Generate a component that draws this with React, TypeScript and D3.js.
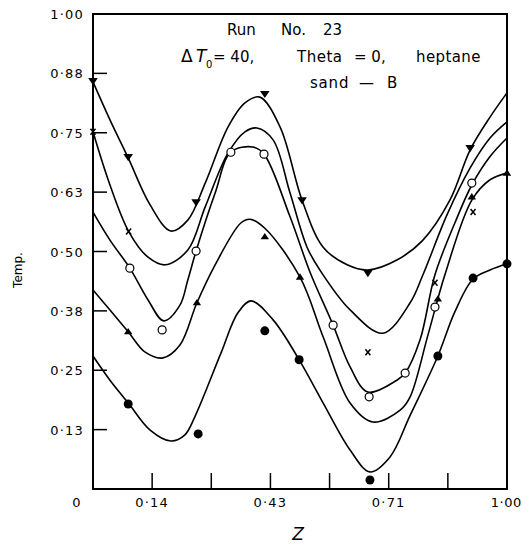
import React from "react";
import * as d3 from "d3";

// Fitted curves [Z, Temp]
const curveDown: [number, number][] = [
  [0, 0.857], [0.041, 0.777], [0.085, 0.697], [0.138, 0.598], [0.188, 0.543], [0.229, 0.566],
  [0.271, 0.644], [0.326, 0.762], [0.367, 0.813], [0.403, 0.825], [0.452, 0.762], [0.505, 0.608],
  [0.556, 0.509], [0.614, 0.472], [0.664, 0.461], [0.734, 0.482], [0.797, 0.524], [0.862, 0.608],
  [0.911, 0.714], [0.959, 0.783], [1.0, 0.834],
];
const curveCross: [number, number][] = [
  [0, 0.752], [0.041, 0.64], [0.087, 0.541], [0.133, 0.488], [0.174, 0.472], [0.229, 0.503],
  [0.271, 0.594], [0.326, 0.707], [0.367, 0.752], [0.396, 0.76], [0.435, 0.735], [0.476, 0.623],
  [0.517, 0.509], [0.548, 0.461], [0.621, 0.377], [0.7, 0.328], [0.766, 0.392], [0.797, 0.451],
  [0.855, 0.577], [0.911, 0.676], [0.959, 0.739], [1.0, 0.773],
];
const curveOpen: [number, number][] = [
  [0, 0.583], [0.041, 0.524], [0.089, 0.465], [0.133, 0.398], [0.171, 0.354], [0.21, 0.387],
  [0.229, 0.44], [0.249, 0.501], [0.295, 0.623], [0.333, 0.709], [0.386, 0.72], [0.413, 0.705],
  [0.476, 0.573], [0.524, 0.457], [0.58, 0.345], [0.621, 0.257], [0.664, 0.204], [0.734, 0.229],
  [0.754, 0.244], [0.79, 0.314], [0.826, 0.451], [0.874, 0.56], [0.915, 0.64], [0.959, 0.7], [1.0, 0.739],
];
const curveUp: [number, number][] = [
  [0, 0.419], [0.041, 0.377], [0.085, 0.331], [0.126, 0.288], [0.169, 0.276], [0.21, 0.303],
  [0.251, 0.392], [0.295, 0.472], [0.357, 0.56], [0.379, 0.568], [0.415, 0.549], [0.5, 0.446],
  [0.556, 0.32], [0.621, 0.181], [0.676, 0.141], [0.742, 0.166], [0.766, 0.194], [0.809, 0.324],
  [0.85, 0.451], [0.915, 0.608], [0.959, 0.651], [1.0, 0.665],
];
const curveFilled: [number, number][] = [
  [0, 0.28], [0.041, 0.229], [0.087, 0.179], [0.138, 0.124], [0.188, 0.101], [0.222, 0.114],
  [0.246, 0.152], [0.309, 0.286], [0.35, 0.371], [0.382, 0.396], [0.435, 0.356], [0.498, 0.272],
  [0.556, 0.181], [0.621, 0.082], [0.669, 0.036], [0.717, 0.067], [0.766, 0.155], [0.833, 0.28],
  [0.874, 0.373], [0.918, 0.442], [0.959, 0.461], [1.0, 0.474],
];

// Measured points [Z, Temp]
const ptsDown: [number, number][] = [
  [0, 0.859], [0.085, 0.699], [0.249, 0.604], [0.415, 0.832], [0.505, 0.608], [0.664, 0.455], [0.911, 0.718],
];
const ptsCross: [number, number][] = [
  [0, 0.752], [0.086, 0.542], [0.664, 0.288], [0.826, 0.434], [0.918, 0.583],
];
const ptsOpen: [number, number][] = [
  [0.089, 0.465], [0.167, 0.335], [0.249, 0.501], [0.333, 0.709], [0.413, 0.705], [0.58, 0.345],
  [0.667, 0.194], [0.754, 0.244], [0.826, 0.383], [0.915, 0.644],
];
const ptsUp: [number, number][] = [
  [0.085, 0.331], [0.251, 0.392], [0.415, 0.531], [0.5, 0.446], [0.833, 0.4], [0.915, 0.615], [1.0, 0.665],
];
const ptsFilled: [number, number][] = [
  [0.085, 0.179], [0.254, 0.116], [0.415, 0.333], [0.498, 0.272], [0.669, 0.019], [0.833, 0.28],
  [0.918, 0.444], [1.0, 0.474],
];

const yTickValues = [0.125, 0.25, 0.375, 0.5, 0.625, 0.75, 0.875, 1.0];
const yTickLabels = ["0·13", "0·25", "0·38", "0·50", "0·63", "0·75", "0·88", "1·00"];
const xTickValues = [1 / 7, 2 / 7, 3 / 7, 4 / 7, 5 / 7, 6 / 7];
const xLabelValues = [0, 1 / 7, 3 / 7, 5 / 7, 1];
const xLabels = ["0", "0·14", "0·43", "0·71", "1·00"];

const FONT = "'DejaVu Sans', sans-serif";

export default function App() {
  const x = d3.scaleLinear().domain([0, 1]).range([93, 507]);
  const y = d3.scaleLinear().domain([0, 1]).range([489, 14]);
  const line = d3
    .line<[number, number]>()
    .x((d) => x(d[0]))
    .y((d) => y(d[1]))
    .curve(d3.curveCatmullRom.alpha(0.5));

  const curves = [curveDown, curveCross, curveOpen, curveUp, curveFilled];
  const triDown = (cx: number, cy: number, s: number) =>
    `M${cx - s},${cy - s * 0.6}L${cx + s},${cy - s * 0.6}L${cx},${cy + s * 0.9}Z`;
  const triUp = (cx: number, cy: number, s: number) =>
    `M${cx - s},${cy + s * 0.6}L${cx + s},${cy + s * 0.6}L${cx},${cy - s * 0.9}Z`;

  return (
    <svg
      width={523}
      height={544}
      style={{ position: "absolute", left: 0, top: 0, background: "#fff" }}
      fontFamily={FONT}
    >
      <rect x={0} y={0} width={523} height={544} fill="#fff" />
      {/* frame */}
      <rect x={x(0)} y={y(1)} width={x(1) - x(0)} height={y(0) - y(1)} fill="none" stroke="#000" strokeWidth={2} />
      {/* y ticks */}
      {yTickValues.map((v, i) => (
        <g key={"yt" + i}>
          {v < 1 && <line x1={x(0)} x2={x(0) + 14} y1={y(v)} y2={y(v)} stroke="#000" strokeWidth={1.5} />}
          <text x={84} y={y(v) + 5} textAnchor="end" fontSize={13} letterSpacing={1.2} fill="#000">
            {yTickLabels[i]}
          </text>
        </g>
      ))}
      {/* x ticks */}
      {xTickValues.map((v, i) => (
        <line key={"xt" + i} x1={x(v)} x2={x(v)} y1={y(0)} y2={y(0) - 16} stroke="#000" strokeWidth={1.5} />
      ))}
      {xLabelValues.map((v, i) =>
        i === 4 ? (
          <text key={"xl" + i} x={522} y={507} textAnchor="end" fontSize={13} letterSpacing={0.6} fill="#000">
            {xLabels[i]}
          </text>
        ) : (
          <text
            key={"xl" + i}
            x={x(v) + (i === 0 ? -16 : 0)}
            y={507}
            textAnchor="middle"
            fontSize={13}
            letterSpacing={1.2}
            fill="#000"
          >
            {xLabels[i]}
          </text>
        )
      )}
      {/* axis titles */}
      <text x={298} y={540} textAnchor="middle" fontSize={17} fontStyle="italic" fill="#000">
        Z
      </text>
      <text transform="translate(22,270) rotate(-90)" textAnchor="middle" fontSize={12} fill="#000">
        Temp.
      </text>
      {/* annotations */}
      <text y={35} fontSize={15} fill="#000">
        <tspan x={227}>Run</tspan>
        <tspan x={281}>No.</tspan>
        <tspan x={323}>23</tspan>
      </text>
      <text y={62} fontSize={17} fill="#000">
        <tspan x={181}>Δ</tspan>
        <tspan x={196} fontStyle="italic">T</tspan>
      </text>
      <text x={206} y={68} fontSize={10} fill="#000">0</text>
      <text y={62} fontSize={15} fill="#000">
        <tspan x={213}>= 40,</tspan>
        <tspan x={297} letterSpacing={0.5}>Theta</tspan>
        <tspan x={354}>= 0,</tspan>
        <tspan x={416} letterSpacing={0.4}>heptane</tspan>
      </text>
      <text y={88} fontSize={15} fill="#000">
        <tspan x={310} letterSpacing={0.8}>sand</tspan>
        <tspan x={359}>—</tspan>
        <tspan x={387}>B</tspan>
      </text>
      {/* curves */}
      {curves.map((c, i) => (
        <path key={"c" + i} d={line(c) || ""} fill="none" stroke="#000" strokeWidth={1.6} />
      ))}
      {/* markers */}
      {ptsDown.map((p, i) => (
        <path key={"pd" + i} d={triDown(x(p[0]), y(p[1]), 4.8)} fill="#000" />
      ))}
      {ptsCross.map((p, i) => (
        <g key={"px" + i} stroke="#000" strokeWidth={1.5}>
          <line x1={x(p[0]) - 2.5} x2={x(p[0]) + 2.5} y1={y(p[1]) - 3} y2={y(p[1]) + 3} />
          <line x1={x(p[0]) - 2.5} x2={x(p[0]) + 2.5} y1={y(p[1]) + 3} y2={y(p[1]) - 3} />
        </g>
      ))}
      {ptsOpen.map((p, i) => (
        <circle key={"po" + i} cx={x(p[0])} cy={y(p[1])} r={4} fill="#fff" stroke="#000" strokeWidth={1.2} />
      ))}
      {ptsUp.map((p, i) => (
        <path key={"pu" + i} d={triUp(x(p[0]), y(p[1]), 4.2)} fill="#000" />
      ))}
      {ptsFilled.map((p, i) => (
        <circle key={"pf" + i} cx={x(p[0])} cy={y(p[1])} r={4.5} fill="#000" />
      ))}
    </svg>
  );
}
